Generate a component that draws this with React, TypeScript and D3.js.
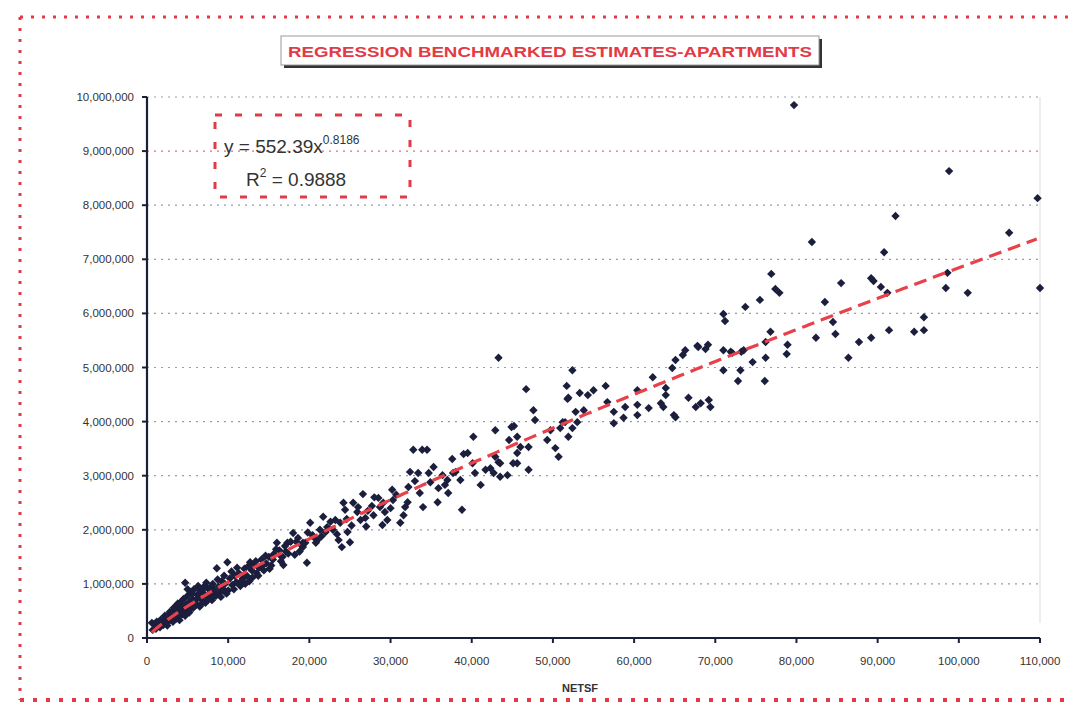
import React from "react";
import * as d3 from "d3";

const TITLE = "REGRESSION BENCHMARKED ESTIMATES-APARTMENTS";
const X_LABEL = "NETSF";
const X_TICKS = [0, 10000, 20000, 30000, 40000, 50000, 60000, 70000, 80000, 90000, 100000, 110000];
const Y_TICKS = [0, 1000000, 2000000, 3000000, 4000000, 5000000, 6000000, 7000000, 8000000, 9000000, 10000000];
const COEF_A = 552.39;
const COEF_B = 0.8186;
const R2 = "0.9888";

// [NETSF, value]
const POINTS: [number, number][] = [
  [79700, 9850000], [98800, 8630000], [109700, 8130000], [110000, 6470000], [106200, 7490000],
  [92200, 7800000], [81900, 7320000], [90800, 7130000], [98600, 6750000], [98400, 6470000],
  [101100, 6380000], [89200, 6650000], [89500, 6600000], [90400, 6490000], [91200, 6380000],
  [85500, 6560000], [83500, 6210000], [84500, 5840000], [84800, 5620000], [82400, 5550000],
  [87700, 5470000], [89200, 5550000], [86400, 5180000], [91400, 5690000], [94500, 5660000],
  [95700, 5690000], [95700, 5930000], [76900, 6730000], [77400, 6450000], [77900, 6380000],
  [75500, 6250000], [73700, 6120000], [71000, 5990000], [71200, 5860000], [76800, 5660000],
  [76200, 5470000], [78900, 5420000], [78800, 5250000], [76200, 5180000], [74600, 5100000],
  [73200, 5290000], [73100, 4950000], [72800, 4750000], [76100, 4750000], [71000, 4950000],
  [71000, 5320000], [71900, 5290000], [72100, 5270000], [73500, 5320000], [66300, 5320000],
  [67800, 5400000], [68800, 5340000], [69100, 5420000], [66700, 4440000], [68200, 4340000],
  [69200, 4400000], [69400, 4270000], [67600, 4270000], [66000, 5230000], [65100, 5140000],
  [64700, 4990000], [67900, 5380000], [62300, 4820000], [63900, 4620000], [63900, 4490000],
  [60400, 4580000], [56500, 4660000], [56700, 4360000], [57500, 4180000], [57500, 3970000],
  [58700, 4070000], [58900, 4270000], [60400, 4310000], [61800, 4250000], [63300, 4340000],
  [63600, 4270000], [64900, 4120000], [60400, 4120000], [65100, 4080000], [52400, 4950000],
  [51700, 4660000], [51900, 4440000], [53300, 4530000], [54300, 4490000], [55000, 4580000],
  [51800, 4420000], [52800, 4180000], [53800, 4210000], [52400, 3880000], [53000, 3990000],
  [51500, 3990000], [43300, 5180000], [46700, 4600000], [47600, 4210000], [47800, 4030000],
  [44900, 3900000], [45200, 3920000], [45600, 3720000], [44600, 3660000], [46000, 3530000],
  [47000, 3530000], [45600, 3420000], [45600, 3230000], [47000, 3110000], [49300, 3660000],
  [50300, 3510000], [50700, 3350000], [50900, 3880000], [49700, 3840000], [51200, 3990000],
  [51900, 3720000], [42900, 3840000], [40200, 3720000], [39500, 3420000], [37600, 3310000],
  [43300, 3250000], [42700, 3050000], [43500, 2980000], [44400, 3010000], [41700, 3110000],
  [40400, 3050000], [40100, 3230000], [41100, 2830000], [38600, 2920000], [37700, 3050000],
  [36400, 3010000], [35300, 3160000], [34500, 3480000], [33900, 3480000], [32800, 3480000],
  [36700, 2830000], [37100, 2680000], [35800, 2510000], [34000, 2420000], [38800, 2370000],
  [42900, 3350000], [43500, 3230000], [42300, 3140000], [45100, 3230000], [38000, 3070000],
  [37000, 2920000], [32400, 3070000], [33400, 3050000], [32200, 2790000], [34900, 2880000],
  [35900, 2770000], [30200, 2740000], [32100, 2510000], [31600, 2270000], [26600, 2660000],
  [28500, 2590000], [29100, 2500000], [27700, 2440000], [30000, 2400000], [27900, 2270000],
  [29000, 2090000], [24200, 2500000], [25400, 2500000], [24400, 2370000], [25900, 2330000],
  [26900, 2220000], [21700, 2240000], [23200, 2180000], [20100, 2130000], [18000, 1940000],
  [22000, 1960000], [25000, 1770000], [23600, 1810000], [21000, 1810000], [19200, 1760000],
  [22200, 2050000], [22900, 2000000], [23800, 2130000], [24700, 1960000], [24000, 1680000],
  [26300, 2180000], [28700, 2420000], [29600, 2180000], [30300, 2550000], [31200, 2130000],
  [16000, 1760000], [17300, 1760000], [19200, 1680000], [20500, 1870000], [12700, 1400000],
  [13900, 1310000], [16400, 1530000], [16800, 1350000], [19500, 1760000], [19700, 1390000],
  [4700, 1020000], [8600, 1290000], [9900, 1400000], [600, 280000],
  [700, 150000], [900, 260000], [1100, 170000], [1300, 210000], [1500, 250000], [1600, 200000],
  [1800, 290000], [2000, 240000], [2100, 330000], [2300, 280000], [2400, 380000], [2600, 300000],
  [2700, 420000], [2900, 340000], [3000, 460000], [3100, 390000], [3200, 300000], [3400, 520000],
  [3500, 430000], [3600, 360000], [3700, 600000], [3800, 470000], [3900, 550000], [4000, 400000],
  [4100, 650000], [4200, 500000], [4300, 560000], [4400, 440000], [4500, 720000], [4600, 540000],
  [4800, 610000], [4900, 480000], [5000, 780000], [5100, 580000], [5200, 660000], [5300, 520000],
  [5400, 850000], [5500, 640000], [5600, 720000], [5700, 560000], [5800, 900000], [6000, 700000],
  [6100, 620000], [6200, 800000], [6400, 750000], [6500, 580000], [6600, 880000], [6800, 700000],
  [7000, 820000], [7100, 960000], [7200, 650000], [7400, 760000], [7600, 900000], [7800, 820000],
  [8000, 700000], [8100, 1000000], [8300, 880000], [8500, 780000], [8800, 950000], [9000, 840000],
  [9200, 1050000], [9400, 900000], [9600, 1000000], [10000, 880000], [10200, 1100000], [10500, 980000],
  [10800, 1150000], [11000, 1030000], [11300, 1200000], [11500, 960000], [11800, 1100000], [12000, 1280000],
  [12300, 1150000], [12600, 1050000], [12900, 1250000], [13200, 1350000], [13500, 1200000], [13800, 1300000],
  [14100, 1450000], [14400, 1250000], [14700, 1380000], [15000, 1500000], [15300, 1340000], [15600, 1550000],
  [16300, 1620000], [16700, 1500000], [17000, 1700000], [17400, 1560000], [18400, 1780000], [18800, 1600000],
  [20400, 1900000], [21300, 2000000], [24600, 2200000], [27200, 2350000], [33000, 2900000], [39000, 3400000],
  [1200, 300000], [1700, 340000], [2200, 410000], [2500, 230000], [2800, 480000], [3300, 560000],
  [3300, 380000], [3800, 640000], [4000, 330000], [4400, 700000], [4700, 410000], [5000, 900000],
  [5200, 470000], [5600, 820000], [5900, 600000], [6300, 960000], [6700, 630000], [6900, 900000],
  [7300, 1020000], [7500, 700000], [7900, 950000], [8200, 760000], [8700, 1080000], [9100, 760000],
  [9500, 1150000], [9800, 820000], [10400, 1230000], [10700, 900000], [11100, 1300000], [11600, 1050000],
  [12100, 1000000], [12500, 1330000], [13000, 1120000], [13400, 1420000], [13700, 1150000], [14200, 1330000],
  [14600, 1520000], [15100, 1280000], [15500, 1450000], [15900, 1640000], [16500, 1420000], [17100, 1600000],
  [17700, 1780000], [18200, 1540000], [18600, 1850000], [19000, 1720000], [19800, 1950000], [20800, 1760000],
  [21500, 1880000], [22600, 2150000], [23400, 1920000], [25200, 2080000], [26000, 2420000], [27000, 2060000],
  [28000, 2600000], [29300, 2330000], [30700, 2650000], [31800, 2420000], [33600, 2680000], [34700, 3050000],
];

const W = 1074;
const H = 706;
const M = { left: 147, right: 1040, top: 97, bottom: 638 };

export default function App() {
  const x = d3.scaleLinear().domain([0, 110000]).range([M.left, M.right]);
  const y = d3.scaleLinear().domain([0, 10000000]).range([M.bottom, M.top]);
  const fmt = d3.format(",");
  const r = 4.2;
  const diamond = `M0,${-r}L${r},0L0,${r}L${-r},0Z`;

  const trendXs = d3.range(600, 110001, 500);
  const trend = d3
    .line<number>()
    .x((v) => x(v))
    .y((v) => y(COEF_A * Math.pow(v, COEF_B)))(trendXs) as string;

  const red = "#e23a46";
  const axisColor = "#1c1f3a";

  return (
    <svg width={W} height={H} style={{ position: "absolute", left: 0, top: 0, background: "#fff" }} fontFamily="Arial, 'Liberation Sans', sans-serif">
      {/* outer dotted border */}
      <line x1={20} y1={17} x2={1072} y2={17} stroke={red} strokeWidth={3} strokeDasharray="3,8" />
      <line x1={20} y1={17} x2={20} y2={700} stroke={red} strokeWidth={3} strokeDasharray="3,8" />
      <line x1={20} y1={700} x2={1072} y2={700} stroke={red} strokeWidth={4} strokeDasharray="4,9" />

      {/* title box */}
      <rect x={284} y={39} width={538} height={29} fill="#333" />
      <rect x={281} y={36} width={538} height={29} fill="#fff" stroke="#999" strokeWidth={1} />
      <text x={550} y={56.5} textAnchor="middle" fontWeight="bold" fontSize={15} fill={red} textLength={524} lengthAdjust="spacingAndGlyphs">
        {TITLE}
      </text>

      {/* gridlines */}
      {Y_TICKS.filter((t) => t > 0).map((t) => (
        <line key={"g" + t} x1={M.left} x2={M.right} y1={y(t)} y2={y(t)}
          stroke={t === 9000000 ? "#e07078" : "#9a9aa8"} strokeWidth={1.2} strokeDasharray="2,5" />
      ))}
      <line x1={M.right} x2={M.right} y1={M.top} y2={M.bottom - 15} stroke="#ddd" strokeWidth={1} />

      {/* axes */}
      <line x1={M.left} x2={M.left} y1={M.top} y2={M.bottom} stroke={axisColor} strokeWidth={2.2} />
      <line x1={M.left} x2={M.right} y1={M.bottom} y2={M.bottom} stroke={axisColor} strokeWidth={2.2} />
      {Y_TICKS.map((t) => (
        <g key={"y" + t}>
          <line x1={M.left - 5} x2={M.left} y1={y(t)} y2={y(t)} stroke={axisColor} strokeWidth={2} />
          <text x={134} y={y(t) + 4} textAnchor="end" fontSize={11.5} fill="#333">{fmt(t)}</text>
        </g>
      ))}
      {X_TICKS.map((t) => (
        <g key={"x" + t}>
          <line x1={x(t)} x2={x(t)} y1={M.bottom} y2={M.bottom + 5} stroke={axisColor} strokeWidth={2} />
          <text x={x(t)} y={665} textAnchor="middle" fontSize={11.5} fill="#333">{fmt(t)}</text>
        </g>
      ))}
      <text x={580} y={692} textAnchor="middle" fontSize={11} fontWeight="bold" fill="#333">{X_LABEL}</text>

      {/* points */}
      {POINTS.map(([px, py], i) => (
        <path key={i} d={diamond} transform={`translate(${x(px)},${y(py)})`} fill="#1b1e3c" />
      ))}

      {/* trendline */}
      <path d={trend} fill="none" stroke="#e8414a" strokeWidth={3.2} strokeDasharray="13,7" />

      {/* equation box */}
      <rect x={215} y={115} width={195} height={82} fill="none" stroke={red} strokeWidth={3} strokeDasharray="7,13" />
      <text x={224} y={153} fontSize={19} fill="#333">
        y = {COEF_A}x<tspan dy={-9} fontSize={12}>{COEF_B}</tspan>
      </text>
      <text x={246} y={186} fontSize={19} fill="#333">
        R<tspan dy={-9} fontSize={12}>2</tspan><tspan dy={9}> = {R2}</tspan>
      </text>
    </svg>
  );
}
